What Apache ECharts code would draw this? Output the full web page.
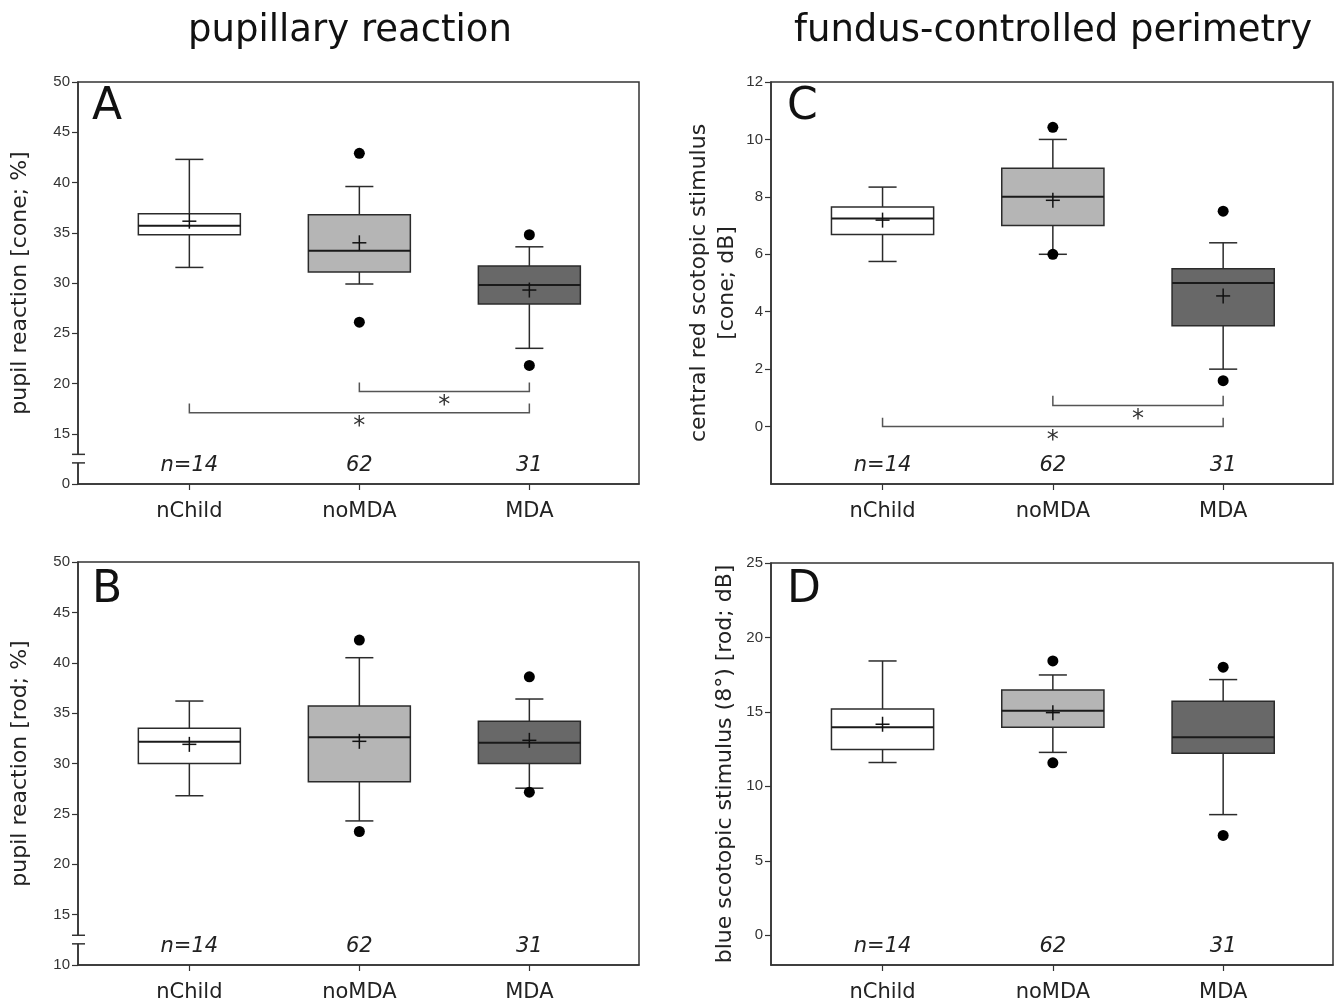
<!DOCTYPE html>
<html>
<head>
<meta charset="utf-8">
<title>pupillary reaction / fundus-controlled perimetry</title>
<script src="https://cdn.jsdelivr.net/npm/echarts@6/dist/echarts.min.js"></script>
<style>
  html, body { margin: 0; padding: 0; background: #fff; }
  #chart { width: 1334px; height: 1005px; }
</style>
</head>
<body>
<div id="chart"></div>
<script>
// groups and sample sizes
const categories = ['nChild', 'noMDA', 'MDA'];
const groupPos = [1, 2, 3];
const nLabels = ['n=14', '62', '31'];

// A - pupil reaction, cone (%)
const aMin = [31.55, 29.9, 23.5];
const aQ1 = [34.8, 31.1, 27.9];
const aMedian = [35.7, 33.2, 29.8];
const aQ3 = [36.9, 36.8, 31.7];
const aMax = [42.3, 39.6, 33.6];
const aMean = [36.15, 34.0, 29.3];
const aOutliers = [[2, 42.9], [2, 26.1], [3, 34.8], [3, 21.8]];
const aBrackets = [[2, 3, 19.2, 20.1], [1, 3, 17.1, 18.0]]; // from, to, bar, end top

// B - pupil reaction, rod (%)
const bMin = [26.8, 24.3, 27.55];
const bQ1 = [30.0, 28.2, 30.0];
const bMedian = [32.15, 32.6, 32.05];
const bQ3 = [33.5, 35.7, 34.2];
const bMax = [36.2, 40.5, 36.4];
const bMean = [31.9, 32.2, 32.3];
const bOutliers = [[2, 42.25], [2, 23.25], [3, 38.6], [3, 27.15]];

// C - central red scotopic stimulus, cone (dB)
const cMin = [5.75, 6.0, 2.0];
const cQ1 = [6.69, 7.0, 3.51];
const cMedian = [7.25, 8.0, 5.0];
const cQ3 = [7.65, 9.0, 5.5];
const cMax = [8.34, 10.0, 6.4];
const cMean = [7.19, 7.88, 4.55];
const cOutliers = [[2, 10.42], [2, 6.0], [3, 7.5], [3, 1.6]];
const cBrackets = [[2, 3, 0.73, 1.07], [1, 3, 0.0, 0.31]];

// D - blue scotopic stimulus (8°), rod (dB)
const dMin = [11.6, 12.28, 8.1];
const dQ1 = [12.48, 13.97, 12.23];
const dMedian = [13.97, 15.07, 13.3];
const dQ3 = [15.2, 16.47, 15.71];
const dMax = [18.42, 17.48, 17.17];
const dMean = [14.17, 14.95, null];
const dOutliers = [[2, 18.42], [2, 11.58], [3, 18.0], [3, 6.7]];

// y axis ticks
const abTicks = [10, 15, 20, 25, 30, 35, 40, 45, 50];
const cTicks = [0, 2, 4, 6, 8, 10, 12];
const dTicks = [0, 5, 10, 15, 20, 25];
const breakRange = [12.1, 12.95]; // axis break marks on A and B

const lineColor = '#2b2b2b';
const boxColors = ['#ffffff', '#b5b5b5', '#686868'];
const font = 'DejaVu Sans';
const X_MIN = 0.345, X_MAX = 3.645;

const chart = echarts.init(document.getElementById('chart'));

function boxRows(mn, q1, med, q3, mx, mean) {
  return groupPos.map((x, i) => [x, mn[i], q1[i], med[i], q3[i], mx[i], mean[i] == null ? NaN : mean[i]]);
}

function seg(x1, y1, x2, y2, color, w) {
  return { type: 'line', shape: { x1, y1, x2, y2 }, style: { stroke: color || lineColor, lineWidth: w || 1.5 } };
}

function renderBox(params, api) {
  const x = api.value(0);
  const pMin = api.coord([x, api.value(1)]);
  const pQ1 = api.coord([x, api.value(2)]);
  const pMed = api.coord([x, api.value(3)]);
  const pQ3 = api.coord([x, api.value(4)]);
  const pMax = api.coord([x, api.value(5)]);
  const mean = api.value(6);
  const cx = pMed[0];
  const bw = api.size([0.6, 0])[0];
  const cw = api.size([0.165, 0])[0];
  const kids = [
    seg(cx, pQ3[1], cx, pMax[1]),
    seg(cx, pQ1[1], cx, pMin[1]),
    seg(cx - cw / 2, pMax[1], cx + cw / 2, pMax[1]),
    seg(cx - cw / 2, pMin[1], cx + cw / 2, pMin[1]),
    {
      type: 'rect',
      shape: { x: cx - bw / 2, y: pQ3[1], width: bw, height: pQ1[1] - pQ3[1] },
      style: { fill: boxColors[params.dataIndex], stroke: lineColor, lineWidth: 1.5 }
    },
    seg(cx - bw / 2, pMed[1], cx + bw / 2, pMed[1], '#1a1a1a', 2)
  ];
  if (!isNaN(mean)) {
    const pm = api.coord([x, mean]);
    kids.push(seg(cx - 7, pm[1], cx + 7, pm[1], '#111', 1.5));
    kids.push(seg(cx, pm[1] - 7.5, cx, pm[1] + 7.5, '#111', 1.5));
  }
  return { type: 'group', children: kids };
}

function renderBracket(params, api) {
  const a = api.coord([api.value(0), api.value(2)]);
  const b = api.coord([api.value(1), api.value(2)]);
  const top = api.coord([api.value(0), api.value(3)])[1];
  return {
    type: 'group',
    children: [
      { type: 'polyline', shape: { points: [[a[0], top], [a[0], a[1]], [b[0], b[1]], [b[0], top]] },
        style: { stroke: '#555', lineWidth: 1.5, fill: null } },
      { type: 'text', style: { text: '*', x: (a[0] + b[0]) / 2, y: a[1] + 2, align: 'center', verticalAlign: 'top',
        font: '24px ' + font, fill: '#333' } }
    ]
  };
}

function renderN(params, api) {
  const p = api.coord([api.value(0), api.value(1)]);
  return {
    type: 'text',
    style: { text: nLabels[params.dataIndex], x: p[0], y: p[1] - 18, align: 'center', verticalAlign: 'middle',
      font: 'italic 21px ' + font, fill: '#222' }
  };
}

function renderBreak(params, api) {
  const ax = params.coordSys.x;
  const y1 = api.coord([X_MIN, api.value(0)])[1];
  const y2 = api.coord([X_MIN, api.value(1)])[1];
  return {
    type: 'group',
    children: [
      { type: 'rect', shape: { x: ax - 2, y: y2, width: 4, height: y1 - y2 }, style: { fill: '#fff' } },
      seg(ax - 6, y1, ax + 7, y1, '#333', 1.5),
      seg(ax - 6, y2, ax + 7, y2, '#333', 1.5)
    ]
  };
}

function xAxisFor(gi) {
  return {
    gridIndex: gi, type: 'value', min: X_MIN, max: X_MAX,
    splitLine: { show: false },
    axisLine: { onZero: false, lineStyle: { color: '#333', width: 1.5 } },
    axisTick: { customValues: groupPos, length: 6, lineStyle: { color: '#333', width: 1.2 } },
    axisLabel: { customValues: groupPos, formatter: v => categories[Math.round(v) - 1],
      fontFamily: font, fontSize: 21, color: '#222', margin: 17 }
  };
}

function yAxisFor(gi, min, max, ticks, name, gap, fmt) {
  return {
    gridIndex: gi, type: 'value', min, max,
    name, nameLocation: 'middle', nameGap: gap,
    nameTextStyle: { fontFamily: font, fontSize: 22, color: '#222', lineHeight: 28 },
    splitLine: { show: false },
    axisLine: { onZero: false, lineStyle: { color: '#333', width: 1.5 } },
    axisTick: { customValues: ticks, length: 6, lineStyle: { color: '#333', width: 1.2 } },
    axisLabel: { customValues: ticks, formatter: fmt || (v => String(v)),
      fontFamily: 'Liberation Sans', fontSize: 15, color: '#333', margin: 8 }
  };
}

const grids = [
  { left: 78, top: 82, width: 561, height: 402 },
  { left: 78, top: 562, width: 561, height: 403 },
  { left: 771, top: 82, width: 562, height: 402 },
  { left: 771, top: 563, width: 562, height: 402 }
].map(g => Object.assign(g, { show: true, borderColor: '#333', borderWidth: 1.5, backgroundColor: '#fff' }));

const panels = [
  { rows: boxRows(aMin, aQ1, aMedian, aQ3, aMax, aMean), out: aOutliers, brackets: aBrackets, yMin: 10, breaks: true },
  { rows: boxRows(bMin, bQ1, bMedian, bQ3, bMax, bMean), out: bOutliers, brackets: [], yMin: 10, breaks: true },
  { rows: boxRows(cMin, cQ1, cMedian, cQ3, cMax, cMean), out: cOutliers, brackets: cBrackets, yMin: -2, breaks: false },
  { rows: boxRows(dMin, dQ1, dMedian, dQ3, dMax, dMean), out: dOutliers, brackets: [], yMin: -2, breaks: false }
];

const series = [];
panels.forEach((p, i) => {
  const ax = { xAxisIndex: i, yAxisIndex: i, coordinateSystem: 'cartesian2d' };
  series.push(Object.assign({ type: 'custom', renderItem: renderBox, data: p.rows, clip: false,
    encode: { x: 0, y: [1, 5] }, silent: true }, ax));
  series.push(Object.assign({ type: 'scatter', data: p.out, symbol: 'circle', symbolSize: 11,
    itemStyle: { color: '#000', opacity: 1 }, silent: true, z: 5 }, ax));
  if (p.brackets.length) {
    series.push(Object.assign({ type: 'custom', renderItem: renderBracket, data: p.brackets, clip: false,
      encode: { x: [0, 1], y: [2, 3] }, silent: true }, ax));
  }
  series.push(Object.assign({ type: 'custom', renderItem: renderN, data: groupPos.map(x => [x, p.yMin]),
    clip: false, encode: { x: 0, y: 1 }, silent: true }, ax));
  if (p.breaks) {
    series.push(Object.assign({ type: 'custom', renderItem: renderBreak, data: [breakRange], clip: false,
      encode: { y: [0, 1] }, silent: true, z: 10 }, ax));
  }
});

const option = {
  backgroundColor: '#fff',
  animation: false,
  grid: grids,
  xAxis: [xAxisFor(0), xAxisFor(1), xAxisFor(2), xAxisFor(3)],
  yAxis: [
    yAxisFor(0, 10, 50, abTicks, 'pupil reaction [cone; %]', 44, v => (v === 10 ? '0' : String(v))),
    yAxisFor(1, 10, 50, abTicks, 'pupil reaction [rod; %]', 44),
    yAxisFor(2, -2, 12, cTicks, 'central red scotopic stimulus\n[cone; dB]', 30),
    yAxisFor(3, -2, 25, dTicks, 'blue scotopic stimulus (8°) [rod; dB]', 32)
  ],
  graphic: [
    { type: 'text', x: 350, y: 31, style: { text: 'pupillary reaction', font: '37px ' + font, fill: '#111', align: 'center', verticalAlign: 'middle' } },
    { type: 'text', x: 1053, y: 31, style: { text: 'fundus-controlled perimetry', font: '37px ' + font, fill: '#111', align: 'center', verticalAlign: 'middle' } },
    { type: 'text', x: 92, y: 108, style: { text: 'A', font: '44px ' + font, fill: '#111', verticalAlign: 'middle' } },
    { type: 'text', x: 92, y: 591, style: { text: 'B', font: '44px ' + font, fill: '#111', verticalAlign: 'middle' } },
    { type: 'text', x: 787, y: 108, style: { text: 'C', font: '44px ' + font, fill: '#111', verticalAlign: 'middle' } },
    { type: 'text', x: 787, y: 591, style: { text: 'D', font: '44px ' + font, fill: '#111', verticalAlign: 'middle' } }
  ],
  series
};

chart.setOption(option);
</script>
</body>
</html>
